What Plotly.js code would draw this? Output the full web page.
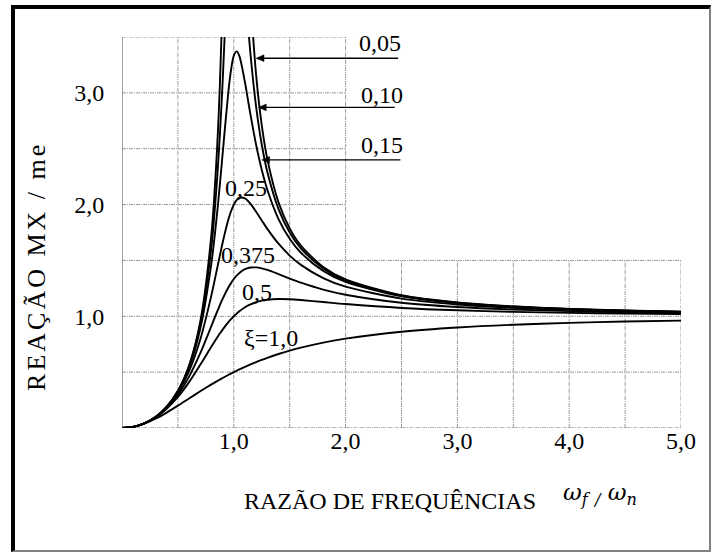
<!DOCTYPE html>
<html>
<head>
<meta charset="utf-8">
<script src="https://cdn.plot.ly/plotly-3.0.1.min.js"></script>
<style>
  html, body { margin: 0; padding: 0; background: #fff; }
  #wrap { position: relative; width: 713px; height: 552px; }
  #chart { position: absolute; left: 0; top: 0; width: 713px; height: 552px; }
  #frame { position: absolute; left: 11px; top: 5px; width: 694px; height: 541px;
           border-left: 4px solid #000; border-top: 4px solid #000;
           border-right: 2px solid #808080; border-bottom: 2px solid #808080;
           pointer-events: none; }
  .annotation[data-index="0"] text { letter-spacing: 3px; }
</style>
</head>
<body>
<div id="wrap">
  <div id="chart"></div>
  <div id="frame"></div>
</div>
<script>
// Frequency ratio (x)
const ratio = [0, 0.1, 0.2, 0.3, 0.4, 0.5, 0.6, 0.7, 0.8, 0.85, 0.875, 0.9, 0.95, 0.975, 1.0, 1.025, 1.05, 1.1, 1.125, 1.15, 1.2, 1.25, 1.3, 1.4, 1.5, 1.6, 1.8, 2.0, 2.5, 3.0, 3.5, 4.0, 4.5, 5.0];

// Response MX/me for each damping ratio
const z005 = [0, 0.0101, 0.0417, 0.0989, 0.1903, 0.3326, 0.5600, 0.9519, 1.7355, 2.4894, 3.0603, 3.8528, 6.630, 8.698, 10.0, 9.190, 7.513, 5.104, 4.387, 3.863, 3.157, 2.712, 2.407, 2.020, 1.787, 1.633, 1.442, 1.330, 1.189, 1.124, 1.088, 1.066, 1.052, 1.041];
const z010 = [0, 0.0101, 0.0416, 0.0987, 0.1896, 0.3304, 0.5529, 0.9265, 1.6246, 2.2201, 2.6175, 3.0948, 4.226, 4.726, 5.0, 4.976, 4.718, 3.979, 3.636, 3.339, 2.873, 2.538, 2.292, 1.960, 1.750, 1.608, 1.428, 1.322, 1.185, 1.122, 1.087, 1.065, 1.051, 1.041];
const z015 = [0, 0.0101, 0.0416, 0.0984, 0.1886, 0.3269, 0.5415, 0.8884, 1.4792, 1.9171, 2.1757, 2.4534, 2.9962, 3.2047, 3.3333, 3.3713, 3.3282, 3.0934, 2.9468, 2.8004, 2.5329, 2.3113, 2.1323, 1.8705, 1.6936, 1.5685, 1.4061, 1.3074, 1.1785, 1.1180, 1.0842, 1.0633, 1.0494, 1.0396];
const z025 = [0, 0.0101, 0.0414, 0.0976, 0.1853, 0.3162, 0.5093, 0.7922, 1.1893, 1.4234, 1.5426, 1.6582, 1.8612, 1.9401, 2.0, 2.0401, 2.0611, 2.0553, 2.0346, 2.0060, 1.9354, 1.8582, 1.7828, 1.6497, 1.5435, 1.4602, 1.3421, 1.2649, 1.1581, 1.1057, 1.0759, 1.0573, 1.0448, 1.0360];
const z0375 = [0, 0.0101, 0.0412, 0.0960, 0.1794, 0.2981, 0.4601, 0.6695, 0.9147, 1.0392, 1.0987, 1.1551, 1.2550, 1.2970, 1.3333, 1.3637, 1.3883, 1.4213, 1.4308, 1.4362, 1.4374, 1.4291, 1.4149, 1.3776, 1.3379, 1.3007, 1.2388, 1.1926, 1.1211, 1.0830, 1.0604, 1.0460, 1.0361, 1.0292];
const z05 = [0, 0.0100, 0.0408, 0.0939, 0.1720, 0.2774, 0.4104, 0.5658, 0.7295, 0.8080, 0.8452, 0.8806, 0.9450, 0.9738, 1.0, 1.0238, 1.0450, 1.0805, 1.0949, 1.1073, 1.1267, 1.1399, 1.1483, 1.1546, 1.1523, 1.1456, 1.1275, 1.1094, 1.0748, 1.0534, 1.0397, 1.0307, 1.0243, 1.0198];
const z10 = [0, 0.0099, 0.0385, 0.0826, 0.1379, 0.2000, 0.2647, 0.3289, 0.3902, 0.4195, 0.4336, 0.4475, 0.4744, 0.4873, 0.5, 0.5123, 0.5244, 0.5475, 0.5586, 0.5694, 0.5902, 0.6098, 0.6283, 0.6622, 0.6923, 0.7191, 0.7642, 0.8, 0.8621, 0.9, 0.9245, 0.9412, 0.9529, 0.9615];

// Tick labels
const xTickVals = [1, 2, 3, 4, 5];
const xTickText = ["1,0", "2,0", "3,0", "4,0", "5,0"];
const yTickVals = [1, 2, 3];
const yTickText = ["1,0", "2,0", "3,0"];

// Grid positions
const gridX = [0.5, 1.0, 1.5, 2.0, 2.5, 3.0, 3.5, 4.0, 4.5, 5.0];
const gridY = [0.5, 1.0, 1.5, 2.0, 2.5, 3.0, 3.5];

// Curve labels
const labelText = ["0,05", "0,10", "0,15", "0,25", "0,375", "0,5", "ξ=1,0"];
const labelX = [2.31, 2.33, 2.33, 1.11, 1.13, 1.21, 1.33];
const labelY = [3.45, 2.98, 2.53, 2.15, 1.55, 1.22, 0.81];
// Leader arrows (y level, head x, tail x)
const arrowY = [3.31, 2.87, 2.40];
const arrowHead = [1.20, 1.22, 1.25];
const arrowTail = [2.47, 2.44, 2.49];

const serif = '"Liberation Serif", "Times New Roman", serif';

const series = [z005, z010, z015, z025, z0375, z05, z10];
const traces = series.map(s => ({
  x: ratio, y: s, type: 'scatter', mode: 'lines',
  line: {color: '#000', width: 1.9, shape: 'spline', smoothing: 0.8},
  hoverinfo: 'skip', showlegend: false
}));

const gridColor = '#9a9a9a';
const gridDash = '4px,1px,1px,1px';
const shapes = [];
gridX.forEach(v => {
  shapes.push({type: 'line', xref: 'x', yref: 'y', x0: v, x1: v, y0: 0, y1: v <= 2.0 ? 3.5 : 1.5,
    line: {color: gridColor, width: 1, dash: gridDash}, layer: 'below'});
});
gridY.forEach(v => {
  shapes.push({type: 'line', xref: 'x', yref: 'y', x0: 0, x1: v <= 1.5 ? 5.0 : 2.0, y0: v, y1: v,
    line: {color: gridColor, width: 1, dash: gridDash}, layer: 'below'});
});
shapes.push({type: 'line', xref: 'x', yref: 'y', x0: 0, x1: 0, y0: 0, y1: 3.5, line: {color: '#666', width: 1.2}, layer: 'below'});
shapes.push({type: 'line', xref: 'x', yref: 'y', x0: 0, x1: 5, y0: 0, y1: 0, line: {color: '#777', width: 1.2, dash: gridDash}, layer: 'below'});

// leader lines with small arrowheads
const ahLen = 0.07, ahHalf = 0.03;
arrowY.forEach((y, i) => {
  const h = arrowHead[i];
  shapes.push({type: 'line', xref: 'x', yref: 'y', x0: h + ahLen * 0.6, x1: arrowTail[i], y0: y, y1: y,
    line: {color: '#000', width: 1.4}});
  shapes.push({type: 'path', xref: 'x', yref: 'y',
    path: `M ${h} ${y} L ${h + ahLen} ${y + ahHalf} L ${h + ahLen} ${y - ahHalf} Z`,
    fillcolor: '#000', line: {color: '#000', width: 0.5}});
});

const txtFont = {family: serif, size: 24, color: '#000'};

const annotations = [
  {text: 'REAÇÃO MX / me', xref: 'paper', yref: 'paper', x: -0.152, y: 0.412, textangle: -90,
   showarrow: false, xanchor: 'center', yanchor: 'middle', font: {family: serif, size: 26, color: '#000'}},
  {text: 'RAZÃO DE FREQUÊNCIAS', xref: 'paper', yref: 'paper', x: 0.479, y: -0.187,
   showarrow: false, xanchor: 'center', yanchor: 'middle', font: txtFont},
  {text: '<i>ω<sub>f</sub> <sub>/</sub> ω<sub>n</sub></i>', xref: 'paper', yref: 'paper', x: 0.785, y: -0.170,
   showarrow: false, xanchor: 'left', yanchor: 'middle', font: {family: '"DejaVu Serif", serif', size: 23, color: '#000'}}
];
labelText.forEach((t, i) => annotations.push({text: t, x: labelX[i], y: labelY[i], xref: 'x', yref: 'y',
  showarrow: false, xanchor: 'center', yanchor: 'middle', font: txtFont}));

const layout = {
  width: 713, height: 552,
  margin: {l: 122, r: 32, t: 37, b: 124},
  paper_bgcolor: '#fff', plot_bgcolor: 'rgba(0,0,0,0)',
  showlegend: false,
  font: txtFont,
  xaxis: {range: [0, 5], showgrid: false, zeroline: false, showline: false,
    tickvals: xTickVals, ticktext: xTickText, ticks: '', ticklabelstandoff: -4,
    tickfont: {family: serif, size: 24, color: '#000'}, fixedrange: true},
  yaxis: {range: [0, 3.5], showgrid: false, zeroline: false, showline: false,
    tickvals: yTickVals, ticktext: yTickText, ticks: 'outside', ticklen: 12, tickcolor: 'rgba(0,0,0,0)',
    tickfont: {family: serif, size: 24, color: '#000'}, fixedrange: true},
  shapes: shapes,
  annotations: annotations
};

Plotly.newPlot('chart', traces, layout, {displayModeBar: false, staticPlot: true});
</script>
</body>
</html>
